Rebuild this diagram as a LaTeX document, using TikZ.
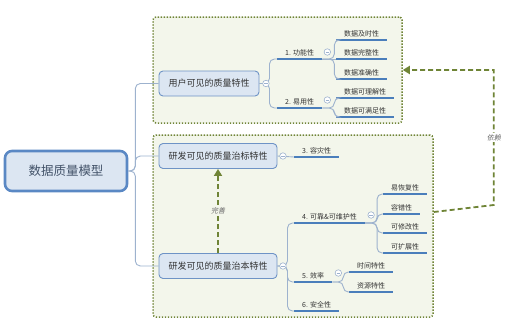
\documentclass[tikz,border=0pt]{standalone}
\usepackage{fontspec}
\setmainfont{Noto Sans CJK SC}
\newfontfamily\notefont[FakeSlant=0.2]{Noto Sans CJK SC}
\usetikzlibrary{arrows.meta}
\definecolor{Ink}{HTML}{333333}
\definecolor{RootInk}{HTML}{44546A}
\definecolor{Blue}{HTML}{6E93C6}
\definecolor{RootBlue}{HTML}{5A88C4}
\definecolor{SoftBlue}{HTML}{DCE6F2}
\definecolor{Under}{HTML}{4A7EBB}
\definecolor{Stem}{HTML}{9DB2CE}
\definecolor{Olive}{HTML}{6F8436}
\definecolor{SoftOlive}{HTML}{F3F6EB}
\definecolor{Note}{HTML}{6B6B6B}

\begin{document}
\begin{tikzpicture}[
  x=1pt, y=-1pt,
  zone/.style={draw=Olive, line width=1.5pt, dash pattern=on 1.3pt off 1.7pt, fill=SoftOlive, rounded corners=3pt, inner sep=0pt},
  root/.style={rounded corners=7pt, draw=RootBlue, line width=2.6pt, fill=SoftBlue, minimum width=122pt, minimum height=40pt, text=RootInk, font=\fontsize{12.5}{14}\selectfont},
  topic/.style={rounded corners=4pt, draw=Blue, line width=0.9pt, fill=SoftBlue, text=Ink, inner xsep=9.5pt, minimum height=25pt, font=\fontsize{9}{11}\selectfont},
  uline/.style={draw=Under, line width=1.6pt},
  leaf/.style={anchor=south west, text=Ink, inner xsep=8pt, inner ysep=2.5pt, text height=6pt, text depth=1pt, font=\fontsize{7}{8}\selectfont,
    append after command={(\tikzlastnode.south west) edge[uline] (\tikzlastnode.south east)}},
  trunk/.style={draw=Stem, line width=0.9pt, rounded corners=5pt},
  branch/.style={draw=Stem, line width=0.9pt, rounded corners=5pt},
  fold/.style={circle, draw=Stem, line width=0.6pt, fill=white, minimum size=6.5pt, inner sep=0pt,
    path picture={\draw[Stem, line width=0.6pt] ([xshift=1.6pt]path picture bounding box.west) -- ([xshift=-1.6pt]path picture bounding box.east);}},
  link/.style={draw=Olive, line width=1.8pt, dash pattern=on 5pt off 3pt, -{Triangle[length=7pt, width=8pt]}},
  note/.style={text=Note, inner sep=1pt, font=\notefont\fontsize{7}{8}\selectfont}
]
\useasboundingbox (0,0) rectangle (512,335);

\node[zone, minimum width=249pt, minimum height=106pt] (userzone) at (277.5,70) {};
\node[zone, minimum width=280pt, minimum height=182pt] (devzone) at (293,226) {};

\node[root] (root) at (66,171) {数据质量模型};
\node[topic] (user) at (209,83.5) {用户可见的质量特性};
\node[topic] (surface) at (218,156) {研发可见的质量治标特性};
\node[topic] (deep) at (218,266) {研发可见的质量治本特性};

\draw[trunk] (root.east) -- ++(7,0) |- (user.west);
\draw[trunk] (root.east) -- ++(7,0) |- (surface.west);
\draw[trunk] (root.east) -- ++(7,0) |- (deep.west);

\node[leaf] (func) at (277,59) {1. 功能性};
\node[leaf] (usab) at (277,108) {2. 易用性};
\node[leaf] (timely) at (336,40) {数据及时性};
\node[leaf] (complete) at (336,59) {数据完整性};
\node[leaf] (accurate) at (336,79) {数据准确性};
\node[leaf] (clear) at (336,98) {数据可理解性};
\node[leaf] (enough) at (336,117) {数据可满足性};

\node[leaf] (disaster) at (294,157) {3. 容灾性};
\node[leaf] (reliab) at (294,223) {4. 可靠\&可维护性};
\node[leaf] (effic) at (294,282) {5. 效率};
\node[leaf] (secure) at (294,311) {6. 安全性};
\node[leaf] (recover) at (383,194) {易恢复性};
\node[leaf] (fault) at (383,214) {容错性};
\node[leaf] (modify) at (383,233) {可修改性};
\node[leaf] (extend) at (383,253) {可扩展性};
\node[leaf] (timing) at (349,272) {时间特性};
\node[leaf] (resource) at (349,292) {资源特性};

\draw[branch] (user.east) -- ++(10,0) |- (func.south west);
\draw[branch] (user.east) -- ++(10,0) |- (usab.south west);
\draw[branch] (func.south east) -- ++(12,0) |- (timely.south west);
\draw[branch] (func.south east) -- (complete.south west);
\draw[branch] (func.south east) -- ++(12,0) |- (accurate.south west);
\draw[branch] (usab.south east) -- ++(12,0) |- (clear.south west);
\draw[branch] (usab.south east) -- ++(12,0) |- (enough.south west);

\draw[branch] (surface.east) -- (disaster.south west);
\draw[branch] (deep.east) -- ++(10,0) |- (reliab.south west);
\draw[branch] (deep.east) -- ++(10,0) |- (effic.south west);
\draw[branch] (deep.east) -- ++(10,0) |- (secure.south west);
\draw[branch] (reliab.south east) -- ++(12,0) |- (recover.south west);
\draw[branch] (reliab.south east) -- ++(12,0) |- (fault.south west);
\draw[branch] (reliab.south east) -- ++(12,0) |- (modify.south west);
\draw[branch] (reliab.south east) -- ++(12,0) |- (extend.south west);
\draw[branch] (effic.south east) -- ++(11,0) |- (timing.south west);
\draw[branch] (effic.south east) -- ++(11,0) |- (resource.south west);

\node[fold] (userfold) at ([xshift=6.5pt]user.east) {};
\node[fold] (surfacefold) at ([xshift=5.5pt]surface.east) {};
\node[fold] (deepfold) at ([xshift=5.5pt]deep.east) {};
\node[fold] (funcfold) at ([xshift=5pt, yshift=7pt]func.south east) {};
\node[fold] (usabfold) at ([xshift=5pt, yshift=8pt]usab.south east) {};
\node[fold] (reliabfold) at ([xshift=6pt, yshift=8pt]reliab.south east) {};
\node[fold] (efficfold) at ([xshift=6pt, yshift=9pt]effic.south east) {};

\draw[link] (deep.north) -- node[note, fill=SoftOlive] {完善} (surface.south);
\draw[link] ([yshift=14pt]devzone.east) -- ++(60,-7) |- node[note, fill=white, pos=0.25] {依赖} (userzone.east);
\end{tikzpicture}
\end{document}
